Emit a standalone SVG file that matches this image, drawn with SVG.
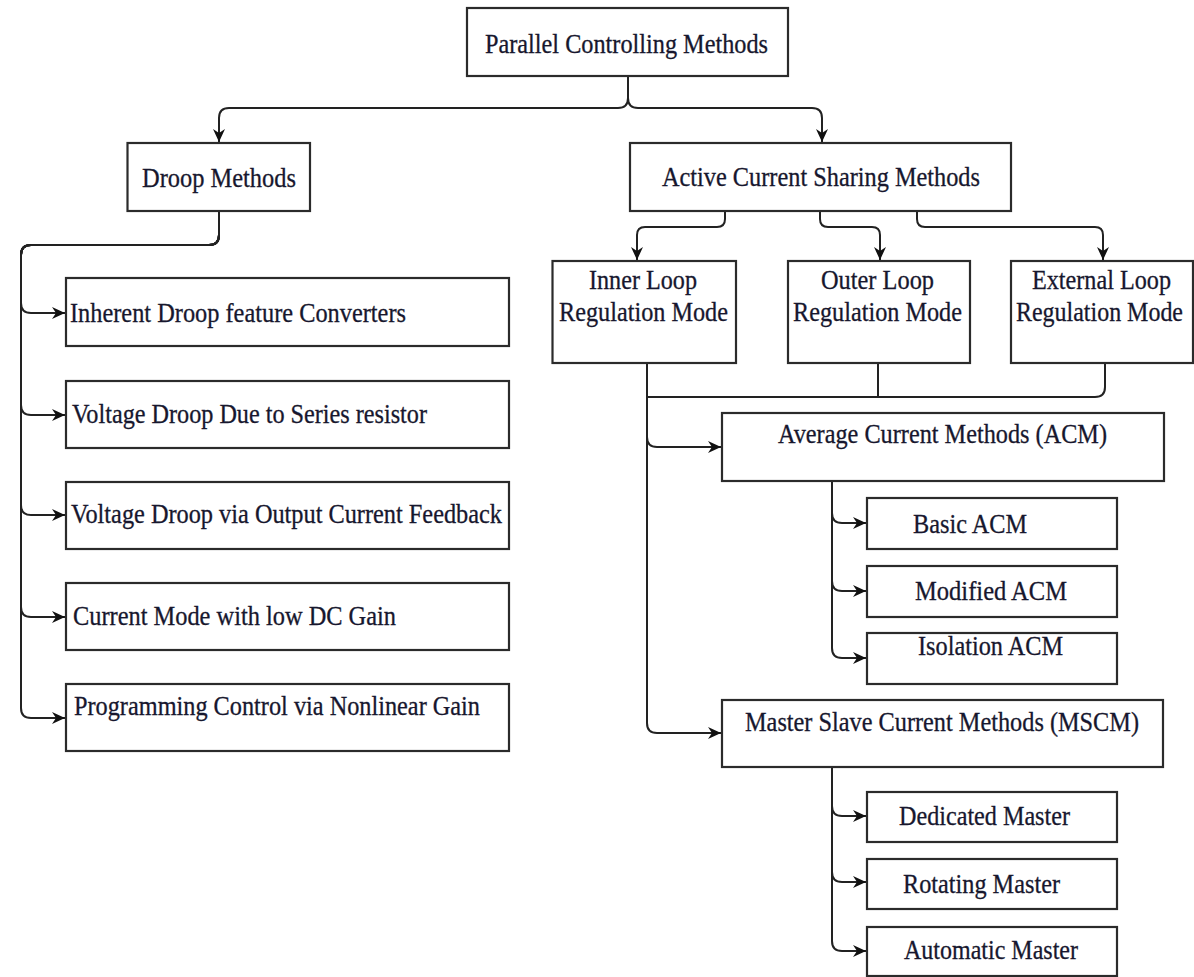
<svg xmlns="http://www.w3.org/2000/svg" width="1194" height="977" viewBox="0 0 1194 977">
<style>
.box{fill:#fff;stroke:#2b2b2b;stroke-width:2.2}
.t{font-family:"Liberation Serif","Times New Roman",serif;font-size:27px;fill:#17172e;stroke:#17172e;stroke-width:0.3}
.c{fill:none;stroke:#222;stroke-width:2}
.a{marker-end:url(#arr)}
</style>
<defs>
<marker id="arr" markerUnits="userSpaceOnUse" markerWidth="15" markerHeight="13" refX="13" refY="6.5" orient="auto">
<path d="M0,0.5 L13,6.5 L0,12.5 L4,6.5 Z" fill="#111"/>
</marker>
</defs>
<rect width="1194" height="977" fill="#fff"/>
<g id="connectors">
<path class="c a" d="M628 76 V98 Q628 108 618 108 H229 Q219 108 219 118 V142"/>
<path class="c a" d="M628 76 V98 Q628 108 638 108 H812 Q822 108 822 118 V142"/>
<path class="c a" d="M219 211 V235 Q219 245 209 245 H31 Q21 245 21 255 V303 Q21 313 31 313 H65"/>
<path class="c a" d="M219 211 V235 Q219 245 209 245 H31 Q21 245 21 255 V405 Q21 415 31 415 H65"/>
<path class="c a" d="M219 211 V235 Q219 245 209 245 H31 Q21 245 21 255 V505 Q21 515 31 515 H65"/>
<path class="c a" d="M219 211 V235 Q219 245 209 245 H31 Q21 245 21 255 V607 Q21 617 31 617 H65"/>
<path class="c a" d="M219 211 V235 Q219 245 209 245 H31 Q21 245 21 255 V708 Q21 718 31 718 H65"/>
<path class="c a" d="M725 211 V219 Q725 227 717 227 H645 Q637 227 637 235 V260"/>
<path class="c a" d="M820 211 V219 Q820 227 828 227 H872 Q880 227 880 235 V260"/>
<path class="c a" d="M917 211 V219 Q917 227 925 227 H1095 Q1103 227 1103 235 V260"/>
<path class="c a" d="M647 363 V437 Q647 447 657 447 H721"/>
<path class="c a" d="M647 363 V723 Q647 733 657 733 H721"/>
<path class="c" d="M878 363 V397 H647"/>
<path class="c" d="M1105 363 V387 Q1105 397 1095 397 H647"/>
<path class="c a" d="M832 481 V513 Q832 523 842 523 H866"/>
<path class="c a" d="M832 481 V581 Q832 591 842 591 H866"/>
<path class="c a" d="M832 481 V648 Q832 658 842 658 H866"/>
<path class="c a" d="M832 767 V806 Q832 816 842 816 H866"/>
<path class="c a" d="M832 767 V872 Q832 882 842 882 H866"/>
<path class="c a" d="M832 767 V941 Q832 951 842 951 H866"/>
</g>
<g id="n-parallel"><rect class="box" x="467" y="8" width="321" height="68"/><text class="t" x="485" y="53" textLength="283" lengthAdjust="spacingAndGlyphs">Parallel Controlling Methods</text></g>
<g id="n-droop"><rect class="box" x="127.5" y="143" width="182.5" height="68"/><text class="t" x="142" y="187" textLength="154" lengthAdjust="spacingAndGlyphs">Droop Methods</text></g>
<g id="n-active"><rect class="box" x="630" y="143" width="381" height="68"/><text class="t" x="662" y="186" textLength="318" lengthAdjust="spacingAndGlyphs">Active Current Sharing Methods</text></g>
<g id="n-inherent"><rect class="box" x="66" y="278" width="443" height="68"/><text class="t" x="70" y="322" textLength="336" lengthAdjust="spacingAndGlyphs">Inherent Droop feature Converters</text></g>
<g id="n-vseries"><rect class="box" x="66" y="381" width="443" height="67"/><text class="t" x="72" y="423" textLength="355" lengthAdjust="spacingAndGlyphs">Voltage Droop Due to Series resistor</text></g>
<g id="n-vfeedback"><rect class="box" x="66" y="482" width="443" height="67"/><text class="t" x="71" y="523" textLength="431" lengthAdjust="spacingAndGlyphs">Voltage Droop via Output Current Feedback</text></g>
<g id="n-currentmode"><rect class="box" x="66" y="583" width="443" height="67"/><text class="t" x="73" y="625" textLength="323" lengthAdjust="spacingAndGlyphs">Current Mode with low DC Gain</text></g>
<g id="n-programming"><rect class="box" x="66" y="684" width="443" height="67"/><text class="t" x="74" y="715" textLength="406" lengthAdjust="spacingAndGlyphs">Programming Control via Nonlinear Gain</text></g>
<g id="n-inner"><rect class="box" x="552.5" y="261" width="183.5" height="102"/><text class="t" x="589" y="289" textLength="108" lengthAdjust="spacingAndGlyphs">Inner Loop</text><text class="t" x="559" y="321" textLength="169" lengthAdjust="spacingAndGlyphs">Regulation Mode</text></g>
<g id="n-outer"><rect class="box" x="788" y="261" width="182" height="102"/><text class="t" x="821" y="289" textLength="113" lengthAdjust="spacingAndGlyphs">Outer Loop</text><text class="t" x="793" y="321" textLength="169" lengthAdjust="spacingAndGlyphs">Regulation Mode</text></g>
<g id="n-external"><rect class="box" x="1011" y="261" width="182" height="102"/><text class="t" x="1032" y="289" textLength="139" lengthAdjust="spacingAndGlyphs">External Loop</text><text class="t" x="1016" y="321" textLength="167" lengthAdjust="spacingAndGlyphs">Regulation Mode</text></g>
<g id="n-acm"><rect class="box" x="722" y="413" width="442" height="68"/><text class="t" x="778" y="443" textLength="329" lengthAdjust="spacingAndGlyphs">Average Current Methods (ACM)</text></g>
<g id="n-basic"><rect class="box" x="867" y="498" width="250" height="51"/><text class="t" x="913" y="533" textLength="114" lengthAdjust="spacingAndGlyphs">Basic ACM</text></g>
<g id="n-modified"><rect class="box" x="867" y="566" width="250" height="51"/><text class="t" x="915" y="600" textLength="152" lengthAdjust="spacingAndGlyphs">Modified ACM</text></g>
<g id="n-isolation"><rect class="box" x="867" y="633" width="250" height="51"/><text class="t" x="918" y="655" textLength="145" lengthAdjust="spacingAndGlyphs">Isolation ACM</text></g>
<g id="n-mscm"><rect class="box" x="722" y="700" width="441" height="67"/><text class="t" x="745" y="731" textLength="394" lengthAdjust="spacingAndGlyphs">Master Slave Current Methods (MSCM)</text></g>
<g id="n-dedicated"><rect class="box" x="867" y="792" width="250" height="50"/><text class="t" x="899" y="825" textLength="171" lengthAdjust="spacingAndGlyphs">Dedicated Master</text></g>
<g id="n-rotating"><rect class="box" x="867" y="859" width="250" height="50"/><text class="t" x="903" y="893" textLength="157" lengthAdjust="spacingAndGlyphs">Rotating Master</text></g>
<g id="n-automatic"><rect class="box" x="867" y="927" width="250" height="49"/><text class="t" x="904" y="959" textLength="174" lengthAdjust="spacingAndGlyphs">Automatic Master</text></g>
</svg>
